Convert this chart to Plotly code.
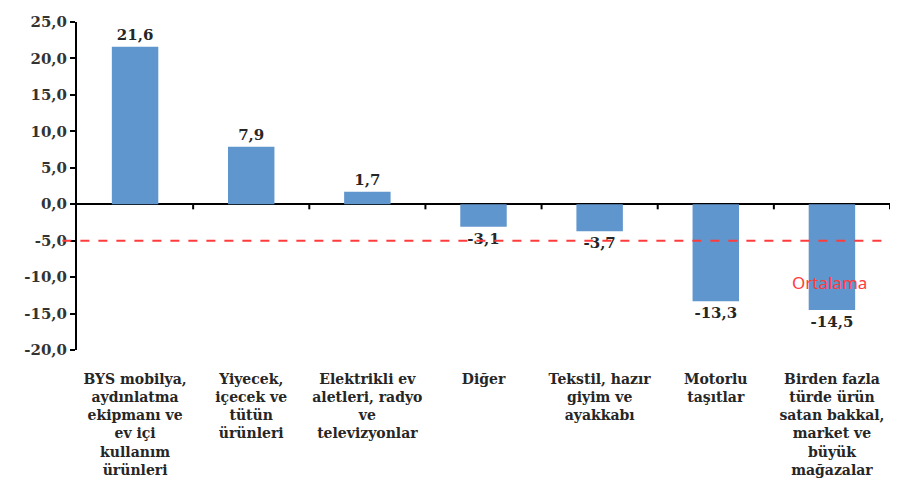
import plotly.graph_objects as go

# Kategoriler ve degerler (%)
kategoriler = [
    "BYS mobilya,<br>aydınlatma<br>ekipmanı ve<br>ev içi<br>kullanım<br>ürünleri",
    "Yiyecek,<br>içecek ve<br>tütün<br>ürünleri",
    "Elektrikli ev<br>aletleri, radyo<br>ve<br>televizyonlar",
    "Diğer",
    "Tekstil, hazır<br>giyim ve<br>ayakkabı",
    "Motorlu<br>taşıtlar",
    "Birden fazla<br>türde ürün<br>satan bakkal,<br>market ve<br>büyük<br>mağazalar",
]
degerler = [21.6, 7.9, 1.7, -3.1, -3.7, -13.3, -14.5]
ortalama = -5.0
y_ticks = [25, 20, 15, 10, 5, 0, -5, -10, -15, -20]


def tr(v):
    return f"{v:.1f}".replace(".", ",")


serif = "DejaVu Serif"
koyu = "#262626"

fig = go.Figure()
fig.add_trace(go.Bar(
    x=list(range(len(kategoriler))),
    y=degerler,
    marker=dict(color="#6096CE", line=dict(width=0)),
    width=0.4,
    text=[tr(v) for v in degerler],
    texttemplate="%{text}",
    textposition="outside",
    textfont=dict(family=serif, size=15, color=koyu, weight="bold"),
    cliponaxis=False,
))

# ortalama cizgisi
fig.add_shape(type="line", xref="paper", yref="y", x0=-0.018, x1=1,
              y0=ortalama, y1=ortalama,
              line=dict(color="#FF3B3B", width=2, dash="dash"))
fig.add_annotation(xref="x", yref="y", x=len(kategoriler) - 1.02, y=ortalama - 5.7,
                   text="Ortalama", showarrow=False,
                   font=dict(family="Noto Sans", size=17, color="#FF3B3B"))

# sifir cizgisi uzerindeki kategori sinir isaretleri
for i in range(len(kategoriler)):
    fig.add_shape(type="line", xref="x", yref="y", x0=i + 0.5, x1=i + 0.5,
                  y0=0, y1=-0.7, line=dict(color="black", width=2))

fig.update_layout(
    width=899, height=495,
    margin=dict(l=69, r=17, t=14, b=153),
    plot_bgcolor="white", paper_bgcolor="white",
    showlegend=False,
    bargap=0.6,
)
fig.update_xaxes(
    tickmode="array", tickvals=list(range(len(kategoriler))), ticktext=kategoriler,
    range=[-0.5, len(kategoriler) - 0.5],
    showline=False, showgrid=False, zeroline=False,
    ticks="outside", ticklen=16, tickcolor="rgba(0,0,0,0)",
    tickfont=dict(family=serif, size=14, color=koyu, weight="bold"),
    tickangle=0, automargin=False,
)
fig.update_yaxes(
    range=[-20, 25], tickvals=y_ticks, ticktext=[tr(v) for v in y_ticks],
    showline=True, linecolor="black", linewidth=2,
    ticks="outside", ticklen=5, tickwidth=2, tickcolor="black",
    showgrid=False, zeroline=True, zerolinecolor="black", zerolinewidth=2,
    tickfont=dict(family=serif, size=15, color="#333333", weight="bold"),
    automargin=False,
)

fig.write_html("out.html")
